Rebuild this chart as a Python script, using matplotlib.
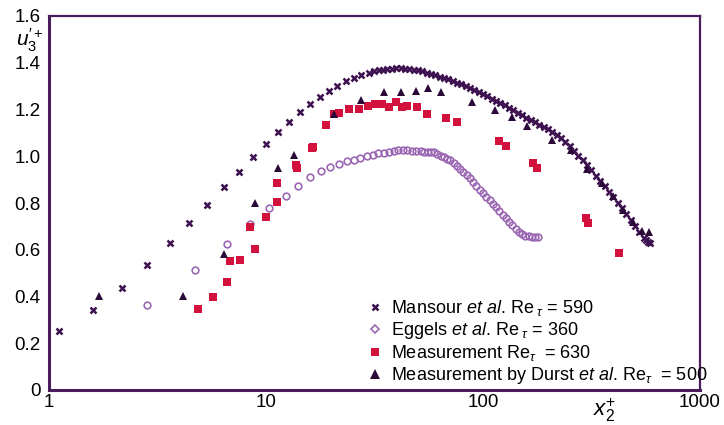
import matplotlib
matplotlib.use("Agg")
import matplotlib.pyplot as plt
from matplotlib.lines import Line2D

plt.rcParams['font.family'] = ['Liberation Sans', 'DejaVu Sans']
plt.rcParams['mathtext.fontset'] = 'custom'
plt.rcParams['mathtext.rm'] = 'Liberation Sans'
plt.rcParams['mathtext.it'] = 'Liberation Sans:italic'
plt.rcParams['mathtext.bf'] = 'Liberation Sans:bold'

# ---- Mansour et al. DNS, Re_tau = 590 ----
mansour_x = [1.11, 1.60, 2.18, 2.84, 3.61, 4.43, 5.37, 6.38, 7.48, 8.69, 10.0, 11.3,
             12.8, 14.3, 16.0, 17.7, 19.5, 21.3, 23.4, 25.4, 27.5, 29.7, 31.6,
             33.1, 34.7, 36.3, 38.0, 39.8, 41.7, 43.7, 45.7, 47.9, 50.1, 52.5, 55.0,
             57.5, 60.3, 63.1, 66.1, 69.2, 72.4, 75.9, 79.4, 83.2, 87.1, 91.2, 95.5,
             100.0, 104.7, 109.6, 114.8, 120.2, 125.9, 131.8, 138.0, 144.5, 151.4,
             158.5, 166.0, 173.8, 182.0, 190.5, 199.5, 208.9, 218.8, 229.1, 239.9,
             251.2, 263.0, 275.4, 288.4, 302.0, 316.2, 331.1, 346.7, 363.1, 380.2,
             398.1, 416.9, 436.5, 457.1, 478.6, 501.2, 524.8, 549.5, 562.3, 575.4,
             589.0]
mansour_y = [0.252, 0.342, 0.438, 0.533, 0.628, 0.713, 0.793, 0.867, 0.934, 0.995, 1.051, 1.102,
             1.148, 1.188, 1.224, 1.255, 1.279, 1.302, 1.322, 1.333, 1.346, 1.356, 1.363,
             1.367, 1.370, 1.372, 1.375, 1.376, 1.376, 1.375, 1.374, 1.371, 1.367, 1.363, 1.358,
             1.353, 1.347, 1.341, 1.335, 1.329, 1.322, 1.314, 1.307, 1.300, 1.293, 1.285, 1.276,
             1.266, 1.257, 1.247, 1.238, 1.228, 1.218, 1.207, 1.197, 1.186, 1.176,
             1.165, 1.155, 1.145, 1.135, 1.125, 1.115, 1.103, 1.091, 1.077, 1.061,
             1.043, 1.023, 1.003, 0.983, 0.962, 0.940, 0.917, 0.894, 0.871, 0.848,
             0.825, 0.801, 0.777, 0.753, 0.728, 0.703, 0.678, 0.652, 0.642, 0.635,
             0.630]

# ---- Eggels et al. DNS, Re_tau = 360 ----
eggels_x = [2.82, 4.69, 6.59, 8.44, 10.36, 12.3, 14.1, 16.0, 17.9, 19.8, 21.7, 23.5,
            25.4, 27.2, 29.1, 31.0, 32.9, 34.9, 36.8, 38.8, 40.7, 42.8, 44.8, 46.9,
            49.1, 51.9, 53.7, 55.6, 57.5, 59.6, 61.7, 63.8, 66.1, 68.4, 70.8, 73.3,
            75.9, 78.5, 81.3, 84.1, 87.1, 90.2, 93.3, 96.6, 100.0, 103.5, 107.2,
            110.9, 114.8, 118.9, 123.0, 127.4, 131.8, 136.5, 141.3, 146.2, 151.4,
            156.7, 162.2, 167.9, 173.8, 179.9]
eggels_y = [0.364, 0.513, 0.623, 0.710, 0.777, 0.831, 0.873, 0.910, 0.936, 0.954, 0.968, 0.978,
            0.985, 0.993, 1.000, 1.005, 1.012, 1.016, 1.020, 1.023, 1.025, 1.025, 1.025, 1.024,
            1.023, 1.021, 1.020, 1.019, 1.020, 1.017, 1.010, 1.003, 0.996, 0.989, 0.982, 0.971,
            0.959, 0.946, 0.933, 0.920, 0.905, 0.889, 0.873, 0.857, 0.842, 0.827, 0.811,
            0.796, 0.781, 0.766, 0.750, 0.735, 0.719, 0.704, 0.690, 0.677, 0.666,
            0.660, 0.657, 0.656, 0.655, 0.655]

# ---- Measurement, Re_tau = 630 ----
meas_x = [4.84, 5.71, 6.59, 6.82, 7.59, 8.44, 8.90, 10.0, 11.2, 11.2, 13.8, 13.9, 16.3,
          16.5, 19.0, 20.6, 21.7, 24.1, 26.7, 29.4, 31.9, 34.4, 37.0, 39.6, 42.2, 44.8,
          49.6, 55.0, 67.8, 75.7, 119.0, 127.0, 170.0, 178.0, 298.0, 306.0, 425.0]
meas_y = [0.345, 0.398, 0.463, 0.552, 0.556, 0.696, 0.605, 0.741, 0.804, 0.887, 0.961, 0.948,
          1.034, 1.039, 1.134, 1.179, 1.186, 1.201, 1.202, 1.216, 1.224, 1.224, 1.209, 1.231,
          1.211, 1.214, 1.212, 1.179, 1.162, 1.145, 1.065, 1.043, 0.969, 0.949, 0.735,
          0.716, 0.585]

# ---- Measurement by Durst et al., Re_tau = 500 ----
durst_x = [1.70, 4.13, 6.38, 8.93, 11.3, 13.4, 20.6, 27.4, 34.8, 41.9, 49.1, 56.0, 64.2,
           88.8, 113.0, 136.0, 159.0, 209.0, 255.0, 303.0, 352.0, 396.0, 443.0, 493.0,
           539.0, 584.0]
durst_y = [0.404, 0.402, 0.582, 0.799, 0.951, 1.005, 1.179, 1.240, 1.275, 1.277, 1.279, 1.291,
           1.274, 1.234, 1.200, 1.168, 1.130, 1.069, 1.027, 0.944, 0.886, 0.830, 0.772,
           0.720, 0.682, 0.677]

labels = [r"Mansour $\mathit{et\ al}$. Re$_{\ \tau}$ = 590",
          r"Eggels $\mathit{et\ al}$. Re$_{\ \tau}$ = 360",
          r"Measurement Re$_{\tau}$  = 630",
          r"Measurement by Durst $\mathit{et\ al}$. Re$_{\tau}$  = 500"]
xticks = [1, 10, 100, 1000]
xticklabels = ["1", "10", "100", "1000"]
yticks = [0, 0.2, 0.4, 0.6, 0.8, 1.0, 1.2, 1.4, 1.6]
yticklabels = ["0", "0.2", "0.4", "0.6", "0.8", "1.0", "1.2", "1.4", "1.6"]

c_mansour = "#3e1150"
c_eggels = "#9b67b3"
c_meas = "#d2123d"
c_durst = "#2a0838"
c_spine = "#4a1c5c"

fig = plt.figure(figsize=(7.24, 4.25), dpi=100)
ax = fig.add_axes([49/724, 1-390/425, (700-49)/724, (390-16)/425])

ax.plot(mansour_x, mansour_y, linestyle='none', marker='x', ms=4.8, mew=1.8,
        color=c_mansour, zorder=4)
ax.plot(eggels_x, eggels_y, linestyle='none', marker='o', ms=4.8, mew=1.2,
        mfc='none', mec=c_eggels, zorder=3)
ax.plot(meas_x, meas_y, linestyle='none', marker='s', ms=5.2, mew=0,
        color=c_meas, zorder=3)
ax.plot(durst_x, durst_y, linestyle='none', marker='^', ms=6.0, mew=0,
        color=c_durst, zorder=5)

ax.set_xscale('log')
ax.set_xlim(1, 1000)
ax.set_ylim(0, 1.6)
ax.set_xticks(xticks)
ax.set_xticklabels(xticklabels)
ax.set_yticks(yticks)
ax.set_yticklabels(yticklabels)
ax.xaxis.set_minor_locator(matplotlib.ticker.NullLocator())
ax.tick_params(axis='both', length=0, labelsize=13.5, colors='black')
ax.tick_params(axis='x', pad=3)
ax.tick_params(axis='y', pad=6)

for side in ['left', 'bottom']:
    ax.spines[side].set_linewidth(2.2)
    ax.spines[side].set_color(c_spine)
for side in ['top', 'right']:
    ax.spines[side].set_linewidth(1.6)
    ax.spines[side].set_color(c_spine)

handles = [
    Line2D([], [], linestyle='none', marker='x', ms=4.5, mew=1.8, color=c_mansour),
    Line2D([], [], linestyle='none', marker='D', ms=3.6, mew=1.2, mfc='none', mec=c_eggels),
    Line2D([], [], linestyle='none', marker='s', ms=6.0, mew=0, color=c_meas),
    Line2D([], [], linestyle='none', marker='^', ms=6.5, mew=0, color=c_durst),
]
leg = ax.legend(handles, labels, loc='upper left',
                bbox_to_anchor=(368/724, 1-298/425), bbox_transform=fig.transFigure,
                frameon=False, fontsize=13, handlelength=0.8, handletextpad=0.45,
                labelspacing=0.12, borderpad=0, borderaxespad=0)

fig.text(44/724, 1-40/425, r"$u_3^{\prime +}$", fontsize=15, ha='right', va='center')
fig.text(605/724, 1-410/425, r"$x_2^{+}$", fontsize=16, ha='center', va='center')

fig.savefig("out.png", dpi=100, facecolor='white')
